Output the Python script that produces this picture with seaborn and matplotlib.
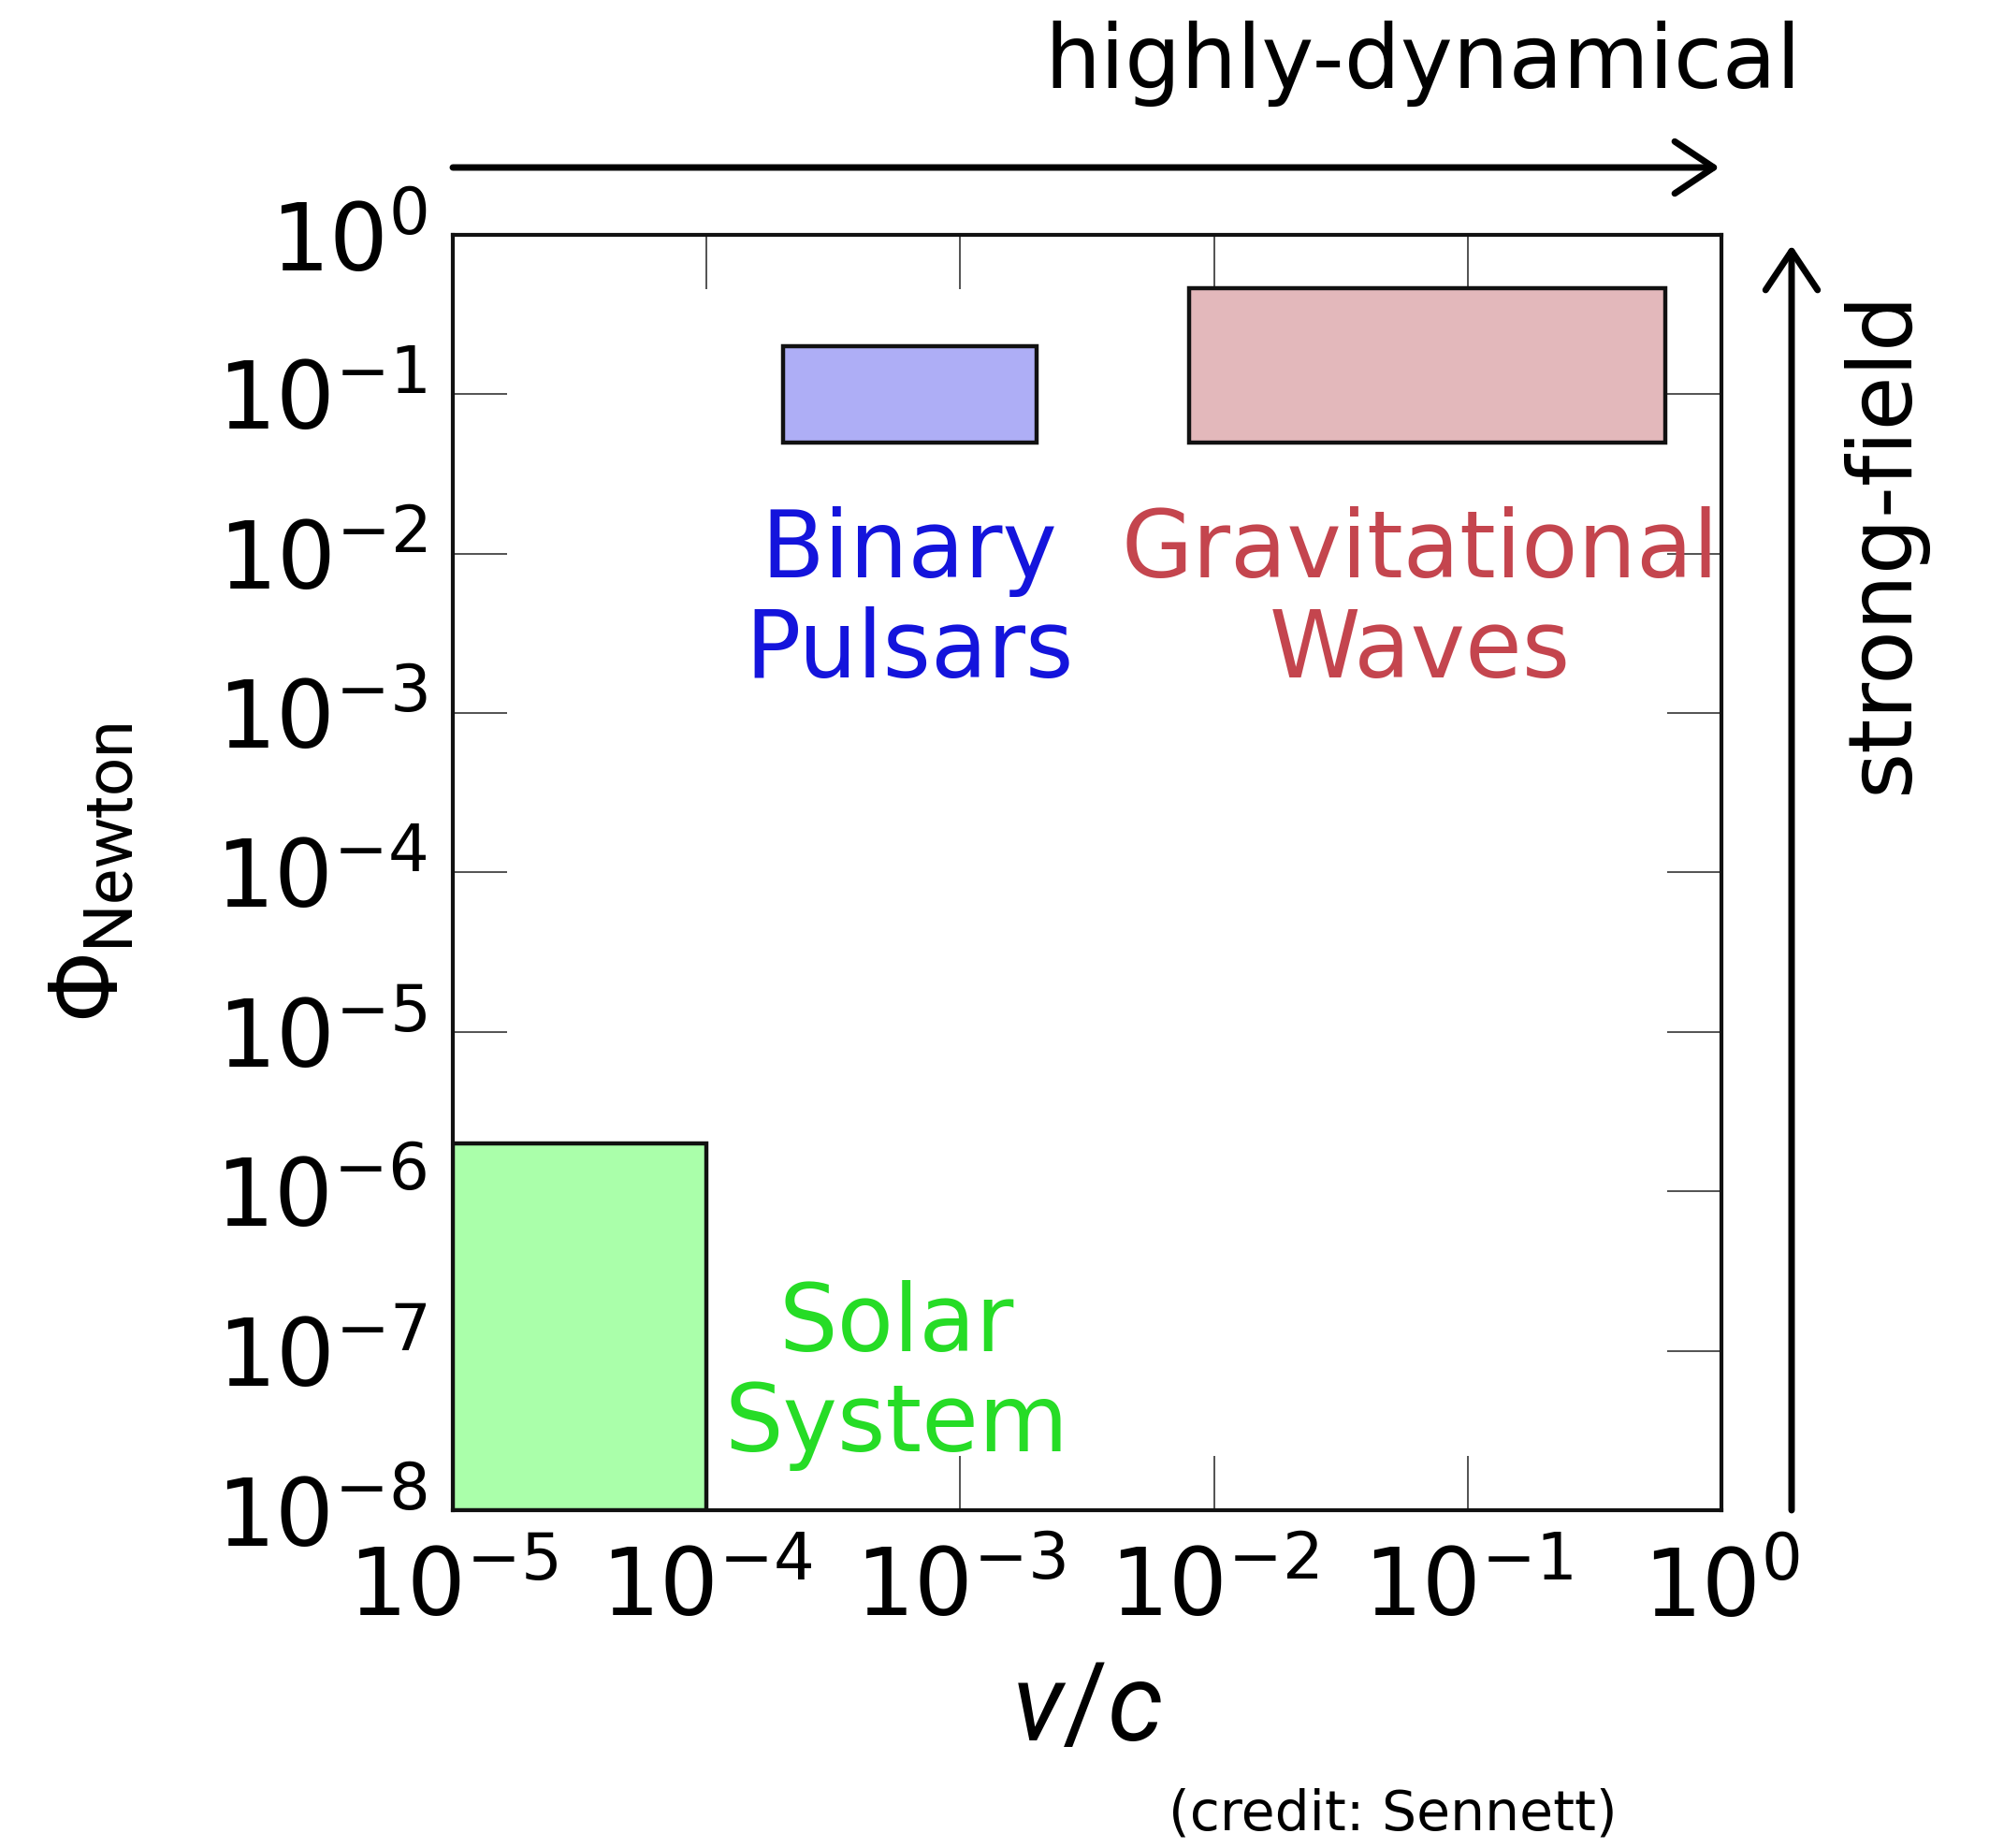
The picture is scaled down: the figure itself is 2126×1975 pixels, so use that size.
import matplotlib
matplotlib.use("Agg")
import matplotlib.pyplot as plt
from matplotlib.patches import Rectangle
import seaborn as sns

# Regimes of gravity tests: velocity range (v/c) and Newtonian potential range
regions = ["Solar\nSystem", "Binary\nPulsars", "Gravitational\nWaves"]
v_low = [1e-5, 2e-4, 8e-3]
v_high = [1e-4, 2e-3, 0.6]
phi_low = [1e-8, 0.05, 0.05]
phi_high = [2e-6, 0.2, 0.46]

x_ticks = [1e-5, 1e-4, 1e-3, 1e-2, 1e-1, 1e0]
y_ticks = [1e-8, 1e-7, 1e-6, 1e-5, 1e-4, 1e-3, 1e-2, 1e-1, 1e0]

# styling
fill_colors = ["#aaffaa", "#aeaef6", "#e3b8bb"]
text_colors = ["#26dc26", "#1414dc", "#c4454e"]
label_pos = [(5.6e-4, 7.0e-8), (6.3e-4, 5.0e-3), (0.065, 5.0e-3)]

sns.set_theme(style="ticks")
plt.rcParams["font.family"] = ["DejaVu Sans"]
plt.rcParams["mathtext.fontset"] = "custom"
plt.rcParams["mathtext.rm"] = "Roboto"
plt.rcParams["mathtext.it"] = "Roboto:italic"
plt.rcParams["mathtext.bf"] = "Roboto:bold"
plt.rcParams["mathtext.sf"] = "Roboto"
for key in ["text.color", "axes.labelcolor", "xtick.color", "ytick.color"]:
    plt.rcParams[key] = "black"

fig = plt.figure(figsize=(21.26, 19.75), dpi=100)
ax = fig.add_axes([0.2277, 0.1828, 0.6378, 0.6901])

ax.set_xscale("log")
ax.set_yscale("log")
ax.set_xlim(1e-5, 1e0)
ax.set_ylim(1e-8, 1e0)
ax.set_xticks(x_ticks)
ax.set_yticks(y_ticks)
ax.minorticks_off()

for lo_x, hi_x, lo_y, hi_y, fc in zip(v_low, v_high, phi_low, phi_high, fill_colors):
    ax.add_patch(Rectangle((lo_x, lo_y), hi_x - lo_x, hi_y - lo_y,
                           facecolor=fc, edgecolor="#111111", lw=3.2, zorder=3))

for name, (tx, ty), tc in zip(regions, label_pos, text_colors):
    ax.text(tx, ty, name, color=tc, fontsize=71, ha="center", va="center",
            linespacing=1.12, zorder=4)

for side in ax.spines.values():
    side.set_linewidth(3.0)
    side.set_color("#111111")

ax.tick_params(axis="both", which="major", direction="in", length=42, width=1.3,
               color="#444444", top=True, right=True, labelsize=71,
               labelcolor="black")
ax.tick_params(axis="y", pad=20)
ax.tick_params(axis="x", pad=27)

ax.set_xlabel(r"$v/c$", fontsize=84)
ax.xaxis.label.set_va("center")
ax.xaxis.set_label_coords(0.5, -0.157)
ax.set_ylabel(r"$\Phi_{\mathrm{Newton}}$", fontsize=74)
ax.yaxis.label.set_va("center")
ax.yaxis.set_label_coords(-0.285, 0.5)

# direction arrows and their captions
arrow_kw = dict(arrowstyle="->,head_length=0.6,head_width=0.4", lw=5.0,
                color="black", mutation_scale=50, shrinkA=0, shrinkB=0)
ax.annotate("", xy=(1838 / 2126, 1 - 179 / 1975), xytext=(484 / 2126, 1 - 179 / 1975),
            xycoords="figure fraction", textcoords="figure fraction",
            arrowprops=arrow_kw, annotation_clip=False)
ax.annotate("", xy=(1915 / 2126, 1 - 262 / 1975), xytext=(1915 / 2126, 1 - 1614 / 1975),
            xycoords="figure fraction", textcoords="figure fraction",
            arrowprops=arrow_kw, annotation_clip=False)

fig.text(1925 / 2126, 1 - 68 / 1975, "highly-dynamical", fontsize=68,
         ha="right", va="center")
fig.text(2013 / 2126, 1 - 579 / 1975, "strong-field", fontsize=68,
         rotation=90, ha="center", va="center")
fig.text(1489 / 2126, 1 - 1939 / 1975, "(credit: Sennett)", fontsize=42,
         ha="center", va="center")

fig.savefig("out.png", dpi=100, facecolor="white")
